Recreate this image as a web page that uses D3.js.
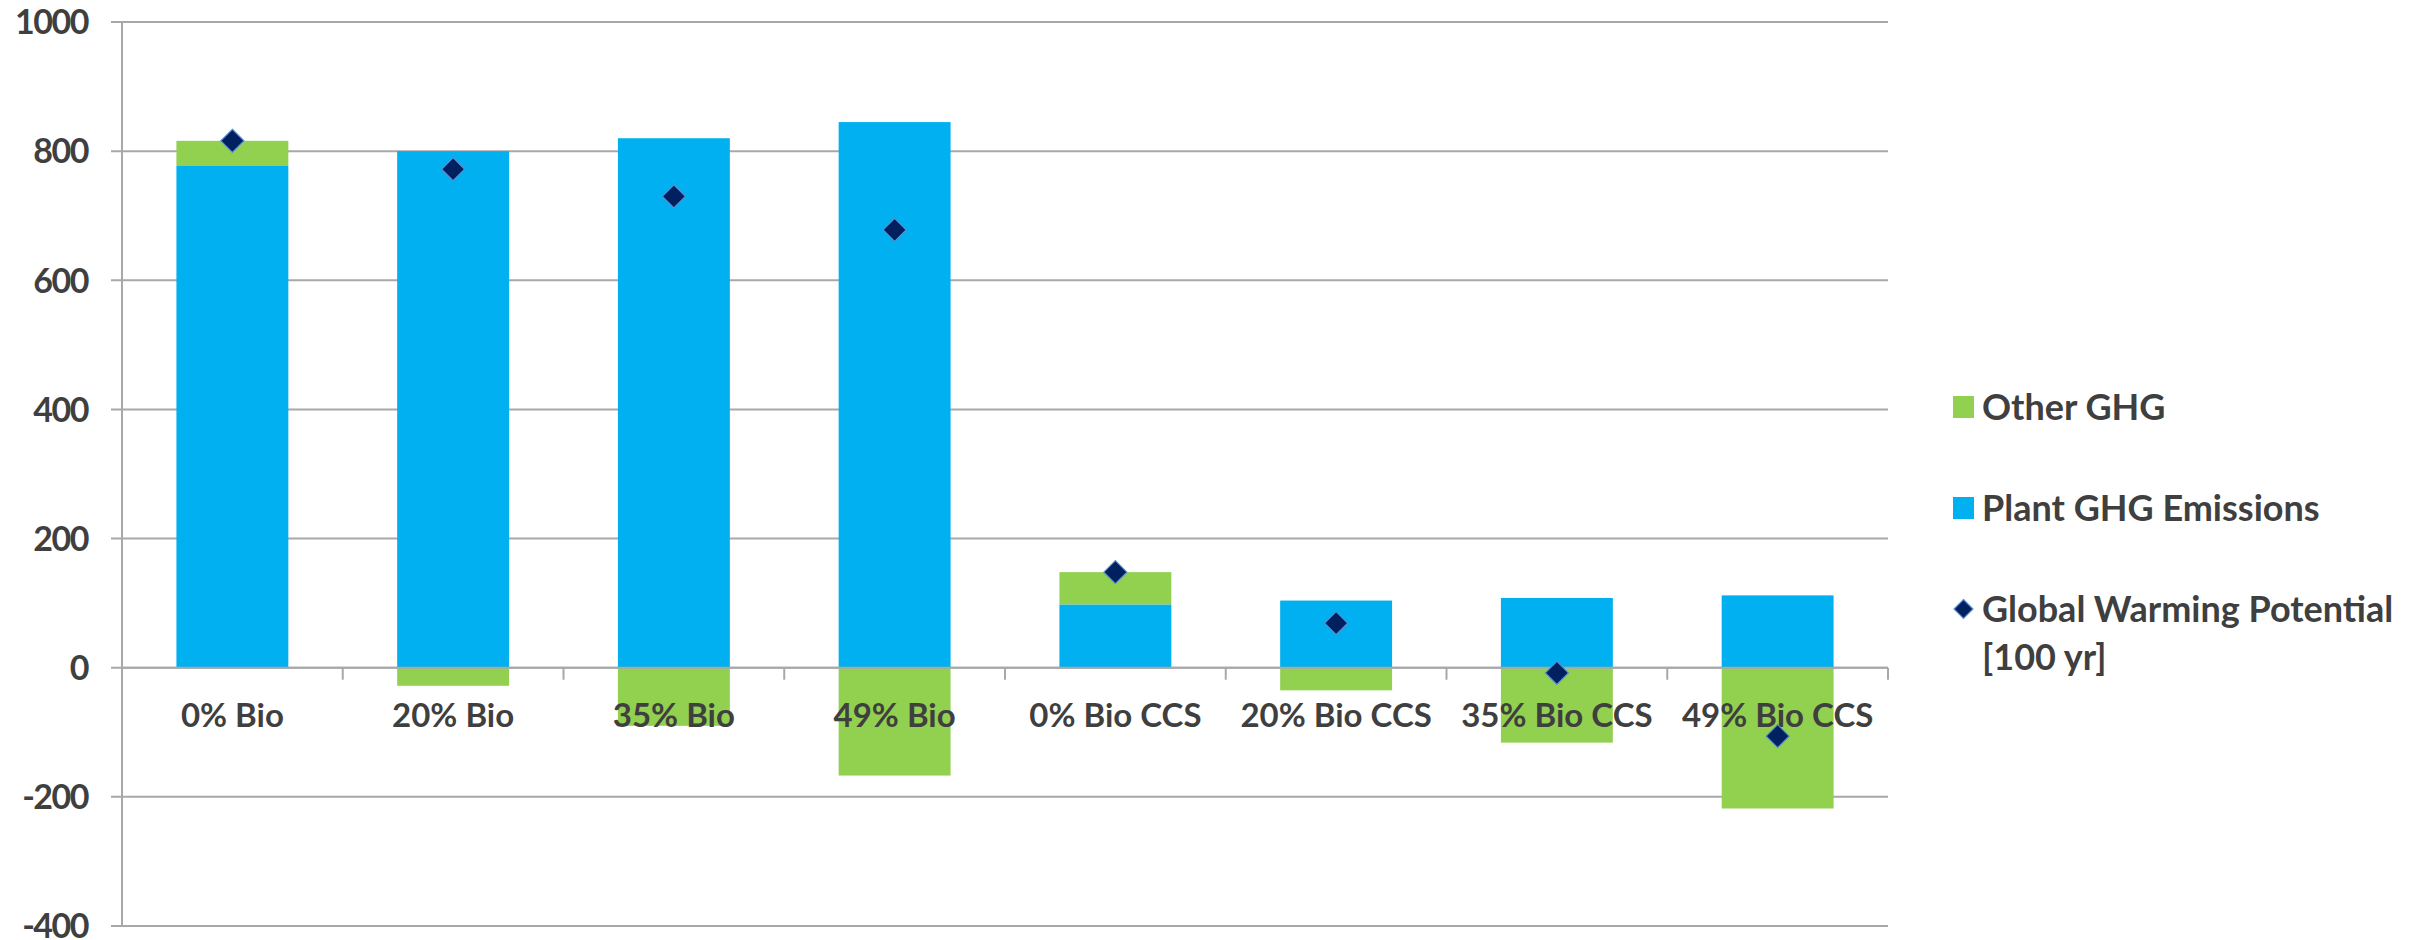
<!DOCTYPE html>
<html>
<head>
<meta charset="utf-8">
<script src="https://cdn.jsdelivr.net/npm/d3@7"></script>
<style>
  html, body { margin: 0; padding: 0; background: #ffffff; }
  svg text { font-family: Lato, "Open Sans", sans-serif; font-weight: 700; fill: #3f3f3f; }
</style>
</head>
<body>
<svg id="chart" width="2425" height="940"></svg>
<script>
// Scenario categories
const categories = ["0% Bio", "20% Bio", "35% Bio", "49% Bio",
                    "0% Bio CCS", "20% Bio CCS", "35% Bio CCS", "49% Bio CCS"];
// Plant GHG emissions per scenario
const plantGHG = [777, 800, 820, 845, 98, 104, 108, 112];
// Other GHG contributions (negative = net uptake)
const otherGHG = [39, -28, -90, -167, 50, -35, -116, -218];
// Global warming potential over 100 years
const gwp100 = [816, 772, 730, 678, 148, 69, -8, -106];
// Value axis ticks
const yTicks = [-400, -200, 0, 200, 400, 600, 800, 1000];

const seriesNames = ["Plant GHG Emissions", "Other GHG"];
const colors = { "Plant GHG Emissions": "#00b0f0", "Other GHG": "#92d050" };

const svg = d3.select("#chart");
const plot = { left: 122, right: 1888, top: 22, bottom: 926 };

const x = d3.scaleBand()
  .domain(categories)
  .range([plot.left, plot.right])
  .paddingInner(0.493)
  .paddingOuter(0.2465);

const y = d3.scaleLinear()
  .domain([-400, 1000])
  .range([plot.bottom, plot.top]);

// Gridlines
svg.append("g")
  .selectAll("line")
  .data(yTicks)
  .join("line")
  .attr("x1", plot.left - 11)
  .attr("x2", plot.right)
  .attr("y1", d => y(d))
  .attr("y2", d => y(d))
  .attr("stroke", "#a8a8a8")
  .attr("stroke-width", 2);

// Vertical axis line
svg.append("line")
  .attr("x1", plot.left).attr("x2", plot.left)
  .attr("y1", plot.top).attr("y2", plot.bottom)
  .attr("stroke", "#a8a8a8").attr("stroke-width", 2);

// Value axis labels
svg.append("g")
  .selectAll("text")
  .data(yTicks)
  .join("text")
  .attr("x", 88)
  .attr("y", d => y(d))
  .attr("dy", "0.36em")
  .attr("text-anchor", "end")
  .style("font-size", "34px")
  .style("letter-spacing", "-1.5px")
  .text(d => d);

// Stacked bars: positives stack upward from zero, negatives downward
const rows = categories.map((c, i) => ({
  category: c,
  "Plant GHG Emissions": plantGHG[i],
  "Other GHG": otherGHG[i]
}));
const stacked = d3.stack()
  .keys(seriesNames)
  .offset(d3.stackOffsetDiverging)(rows);

svg.append("g")
  .selectAll("g")
  .data(stacked)
  .join("g")
  .attr("fill", s => colors[s.key])
  .selectAll("rect")
  .data(s => s)
  .join("rect")
  .attr("x", d => x(d.data.category))
  .attr("width", x.bandwidth())
  .attr("y", d => y(Math.max(d[0], d[1])))
  .attr("height", d => Math.abs(y(d[0]) - y(d[1])));

// Category axis along zero with tick marks between categories
const zeroY = y(0);
svg.append("line")
  .attr("x1", plot.left).attr("x2", plot.right)
  .attr("y1", zeroY).attr("y2", zeroY)
  .attr("stroke", "#a8a8a8").attr("stroke-width", 2);

const boundaries = d3.range(categories.length + 1).map(i => plot.left + i * x.step());
svg.append("g")
  .selectAll("line")
  .data(boundaries)
  .join("line")
  .attr("x1", d => d).attr("x2", d => d)
  .attr("y1", zeroY).attr("y2", zeroY + 12)
  .attr("stroke", "#a8a8a8").attr("stroke-width", 2);

svg.append("g")
  .selectAll("text")
  .data(categories)
  .join("text")
  .attr("x", d => x(d) + x.bandwidth() / 2)
  .attr("y", zeroY + 59)
  .attr("text-anchor", "middle")
  .style("font-size", "33px")
  .text(d => d);

// Global warming potential markers
const diamond = d3.symbol().type(d3.symbolDiamond2).size(340);
svg.append("g")
  .selectAll("path")
  .data(gwp100)
  .join("path")
  .attr("d", diamond)
  .attr("transform", (d, i) => `translate(${x(categories[i]) + x.bandwidth() / 2},${y(d)})`)
  .attr("fill", "#002060")
  .attr("stroke", "#5b8fd0")
  .attr("stroke-width", 1.2);

// Legend
const legend = svg.append("g").attr("transform", "translate(1953,0)");
const legendItems = [
  { label: ["Other GHG"], color: colors["Other GHG"], type: "rect", cy: 407 },
  { label: ["Plant GHG Emissions"], color: colors["Plant GHG Emissions"], type: "rect", cy: 508 },
  { label: ["Global Warming Potential", "[100 yr]"], color: "#002060", type: "diamond", cy: 609 }
];
legendItems.forEach(item => {
  if (item.type === "rect") {
    legend.append("rect")
      .attr("x", 0).attr("y", item.cy - 11)
      .attr("width", 21).attr("height", 22)
      .attr("fill", item.color);
  } else {
    legend.append("path")
      .attr("d", d3.symbol().type(d3.symbolDiamond2).size(230)())
      .attr("transform", `translate(10.5,${item.cy})`)
      .attr("fill", item.color)
      .attr("stroke", "#5b8fd0")
      .attr("stroke-width", 1.2);
  }
  item.label.forEach((line, j) => {
    legend.append("text")
      .attr("x", 29)
      .attr("y", item.cy + j * 48)
      .attr("dy", "0.36em")
      .style("font-size", "36px")
      .text(line);
  });
});
</script>
</body>
</html>
